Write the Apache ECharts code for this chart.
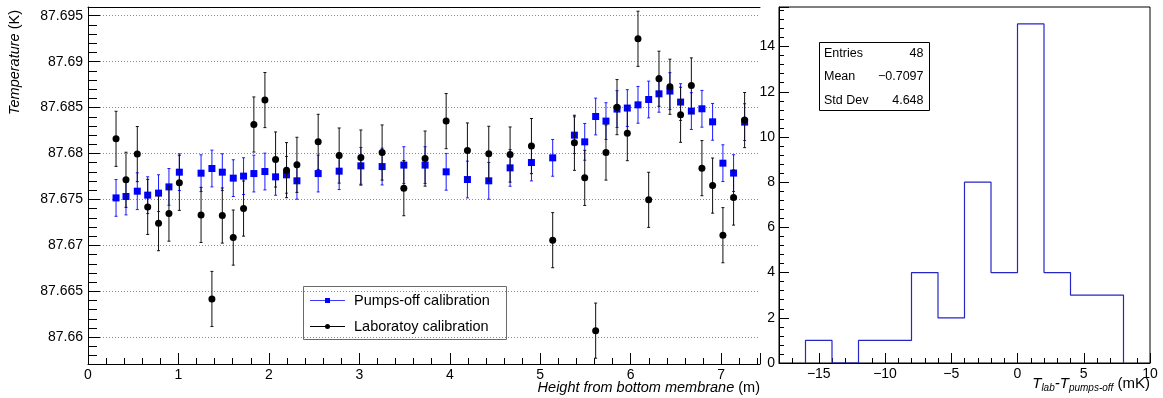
<!DOCTYPE html>
<html>
<head>
<meta charset="utf-8">
<script src="https://cdn.jsdelivr.net/npm/echarts@6/dist/echarts.min.js"></script>
<style>
html,body{margin:0;padding:0;background:#fff;}
#c{width:1163px;height:398px;}
</style>
</head>
<body>
<div id="c"></div>
<script>
// ---- data ----
const heights = [0.31,0.42,0.545,0.66,0.78,0.895,1.01,1.25,1.37,1.485,1.606,1.72,1.834,1.956,2.074,2.195,2.31,2.545,2.777,3.017,3.252,3.492,3.727,3.96,4.195,4.431,4.667,4.903,5.138,5.378,5.492,5.613,5.727,5.849,5.963,6.081,6.199,6.313,6.434,6.552,6.671,6.788,6.906,7.02,7.138,7.26];
const pumpsOff = [87.67517,87.67532,87.6759,87.67547,87.67569,87.67637,87.67797,87.67786,87.67837,87.67797,87.67732,87.67754,87.67782,87.67804,87.67746,87.67768,87.67703,87.67782,87.67808,87.67866,87.67858,87.67874,87.67874,87.67801,87.67717,87.67703,87.67844,87.67902,87.67953,87.682,87.68127,87.68403,87.68353,87.68484,87.68495,87.6853,87.68588,87.6865,87.6868,87.6856,87.68462,87.68487,87.68345,87.67895,87.67787,87.68342];
const laboratory = [87.6816,87.67714,87.67994,87.67419,87.67242,87.67346,87.67681,87.67332,87.66417,87.67325,87.67085,87.67401,87.68316,87.68582,87.67935,87.67819,87.67877,87.68127,87.67978,87.67956,87.68011,87.67623,87.67945,87.68353,87.68033,87.67997,87.67989,87.68081,87.67057,87.68117,87.67735,87.66072,87.68011,87.68505,87.68222,87.69249,87.67496,87.68814,87.68727,87.68422,87.68741,87.67841,87.67651,87.67111,87.67521,87.68364];
const pumpsOffErr = 0.002;
const laboratoryErr = 0.003;
const seriesNames = ['Pumps-off calibration', 'Laboratoy calibration'];

const binEdges = [-16,-14,-12,-10,-8,-6,-4,-2,0,2,4,6,8];
const binCounts = [1,0,1,1,4,2,8,4,15,4,3,3];
const stats = [['Entries','48'],['Mean','\u22120.7097'],['Std Dev','4.648']];

// ---- chart ----
const FF = '"Liberation Sans", Arial, Helvetica, sans-serif';
const chart = echarts.init(document.getElementById('c'), null, {renderer:'canvas'});

function errRender(color){
  return function(params, api){
    const x = api.value(0), y = api.value(1), e = api.value(2);
    const p1 = api.coord([x, y + e]);
    const p2 = api.coord([x, y - e]);
    const c = 1.5;
    const st = {stroke: color, lineWidth: 1};
    return {type:'group', children:[
      {type:'line', shape:{x1:p1[0], y1:p1[1], x2:p2[0], y2:p2[1]}, style:st},
      {type:'line', shape:{x1:p1[0]-c, y1:p1[1], x2:p1[0]+c, y2:p1[1]}, style:st},
      {type:'line', shape:{x1:p2[0]-c, y1:p2[1], x2:p2[0]+c, y2:p2[1]}, style:st}
    ]};
  };
}

const histPoints = [[binEdges[0], 0]];
binCounts.forEach((c, i) => histPoints.push([binEdges[i], c]));
histPoints.push([binEdges[binEdges.length-1], 0]);

const blk = '#000';
const axisCommon = {
  axisLine:{show:true, onZero:false, lineStyle:{color:blk, width:1}},
  splitLine:{show:false}
};

const option = {
  animation:false,
  backgroundColor:'#fff',
  grid:[
    {left:88, right:403, top:7, bottom:34},
    {left:779, right:13, top:7, bottom:35, show:true, borderColor:blk, borderWidth:1, backgroundColor:'transparent'}
  ],
  xAxis:[
    Object.assign({}, axisCommon, {
      gridIndex:0, type:'value', min:0, max:7.43, interval:1,
      axisTick:{show:true, inside:true, length:11, lineStyle:{color:blk}},
      minorTick:{show:true, splitNumber:5, length:6, lineStyle:{color:blk}},
      axisLabel:{color:blk, fontSize:14, fontFamily:FF, margin:4, showMaxLabel:false}
    }),
    {gridIndex:0, type:'value', position:'top', min:0, max:7.43,
     axisLine:{show:true, onZero:false, lineStyle:{color:blk}}, axisTick:{show:false}, axisLabel:{show:false}, splitLine:{show:false}},
    Object.assign({}, axisCommon, {
      gridIndex:1, type:'value', min:-18, max:10, splitNumber:6,
      axisTick:{show:true, inside:true, length:10, lineStyle:{color:blk}},
      minorTick:{show:true, splitNumber:5, length:5, lineStyle:{color:blk}},
      axisLabel:{color:blk, fontSize:14, fontFamily:FF, margin:4, showMinLabel:false,
        formatter: v => (v < 0 ? '\u2212' + Math.abs(v) : String(v))}
    })
  ],
  yAxis:[
    Object.assign({}, axisCommon, {
      gridIndex:0, type:'value', min:87.65709, max:87.69595, splitNumber:8,
      axisTick:{show:true, inside:true, length:12, lineStyle:{color:blk}},
      minorTick:{show:true, splitNumber:5, length:9, lineStyle:{color:blk}},
      axisLabel:{color:blk, fontSize:14, fontFamily:FF, margin:5, showMinLabel:false, showMaxLabel:false},
      splitLine:{show:true, lineStyle:{color:'#8a8a8a', width:1, type:[1,2]}}
    }),
    Object.assign({}, axisCommon, {
      gridIndex:1, type:'value', min:0, max:15.75, interval:2,
      axisTick:{show:true, inside:true, length:10, lineStyle:{color:blk}},
      minorTick:{show:true, splitNumber:5, length:5, lineStyle:{color:blk}},
      axisLabel:{color:blk, fontSize:14, fontFamily:FF, margin:4, showMaxLabel:false}
    })
  ],
  series:[
    {type:'custom', name:seriesNames[0]+' err', xAxisIndex:0, yAxisIndex:0, renderItem:errRender('#1a1aff'),
     data: heights.map((h,i)=>[h, pumpsOff[i], pumpsOffErr]), z:2},
    {type:'scatter', name:seriesNames[0], xAxisIndex:0, yAxisIndex:0, symbol:'rect', symbolSize:7,
     itemStyle:{color:'#0000ff', opacity:1}, data: heights.map((h,i)=>[h, pumpsOff[i]]), z:3},
    {type:'custom', name:seriesNames[1]+' err', xAxisIndex:0, yAxisIndex:0, renderItem:errRender('#111'),
     data: heights.map((h,i)=>[h, laboratory[i], laboratoryErr]), z:4},
    {type:'scatter', name:seriesNames[1], xAxisIndex:0, yAxisIndex:0, symbol:'circle', symbolSize:7,
     itemStyle:{color:'#000', opacity:1}, data: heights.map((h,i)=>[h, laboratory[i]]), z:5},
    {type:'line', name:'hist', xAxisIndex:2, yAxisIndex:1, step:'end', showSymbol:false, symbol:'none',
     lineStyle:{color:'#2626c6', width:1.2}, data: histPoints, z:3}
  ],
  graphic:[
    // y-axis title
    {type:'text', x:15, y:10, rotation:Math.PI/2,
     style:{text:'{i|Temperature} (K)', align:'right', verticalAlign:'middle', fontSize:14.5, fontFamily:FF, fill:blk,
       rich:{i:{fontStyle:'italic', fontSize:14.5, fontFamily:FF}}}},
    // x-axis title
    {type:'text', x:760, y:388,
     style:{text:'{i|Height from bottom membrane} (m)', align:'right', verticalAlign:'middle', fontSize:14.5, fontFamily:FF, fill:blk,
       rich:{i:{fontStyle:'italic', fontSize:14.5, fontFamily:FF}}}},
    // histogram x title
    {type:'text', x:1150, y:384,
     style:{text:'{t|T}{s|lab}{t|-T}{s|pumps-off}{n| (mK)}', align:'right', verticalAlign:'middle', fill:blk, fontFamily:FF,
       rich:{t:{fontStyle:'italic', fontSize:15, fontFamily:FF},
             s:{fontStyle:'italic', fontSize:10, fontFamily:FF, padding:[9,0,0,0]},
             n:{fontSize:15, fontFamily:FF}}}},
    // legend
    {type:'group', children:[
      {type:'rect', shape:{x:303.5, y:286.5, width:203, height:53}, style:{fill:'#fff', stroke:'#6a6a6a', lineWidth:1}},
      {type:'line', shape:{x1:310, y1:300.5, x2:345, y2:300.5}, style:{stroke:'#3a3aff', lineWidth:1}},
      {type:'rect', shape:{x:325, y:298, width:5, height:5}, style:{fill:'#0000ff'}},
      {type:'text', x:354, y:300.5, style:{text:seriesNames[0], fontSize:14.5, fontFamily:FF, fill:blk, verticalAlign:'middle'}},
      {type:'line', shape:{x1:310, y1:326.5, x2:345, y2:326.5}, style:{stroke:'#000', lineWidth:1}},
      {type:'circle', shape:{cx:327.5, cy:326.5, r:2.5}, style:{fill:'#000'}},
      {type:'text', x:354, y:326.5, style:{text:seriesNames[1], fontSize:14.5, fontFamily:FF, fill:blk, verticalAlign:'middle'}}
    ]},
    // stats box
    {type:'group', children:[
      {type:'rect', shape:{x:819.5, y:42.5, width:110, height:68}, style:{fill:'#fff', stroke:'#000', lineWidth:1}},
    ].concat(stats.flatMap((r, i) => [
      {type:'text', x:824, y:53.5 + i*23.5, style:{text:r[0], fontSize:12.5, fontFamily:FF, fill:blk, verticalAlign:'middle'}},
      {type:'text', x:923.5, y:53.5 + i*23.5, style:{text:r[1], fontSize:12.5, fontFamily:FF, fill:blk, verticalAlign:'middle', align:'right'}}
    ]))}
  ]
};
chart.setOption(option);
</script>
</body>
</html>
